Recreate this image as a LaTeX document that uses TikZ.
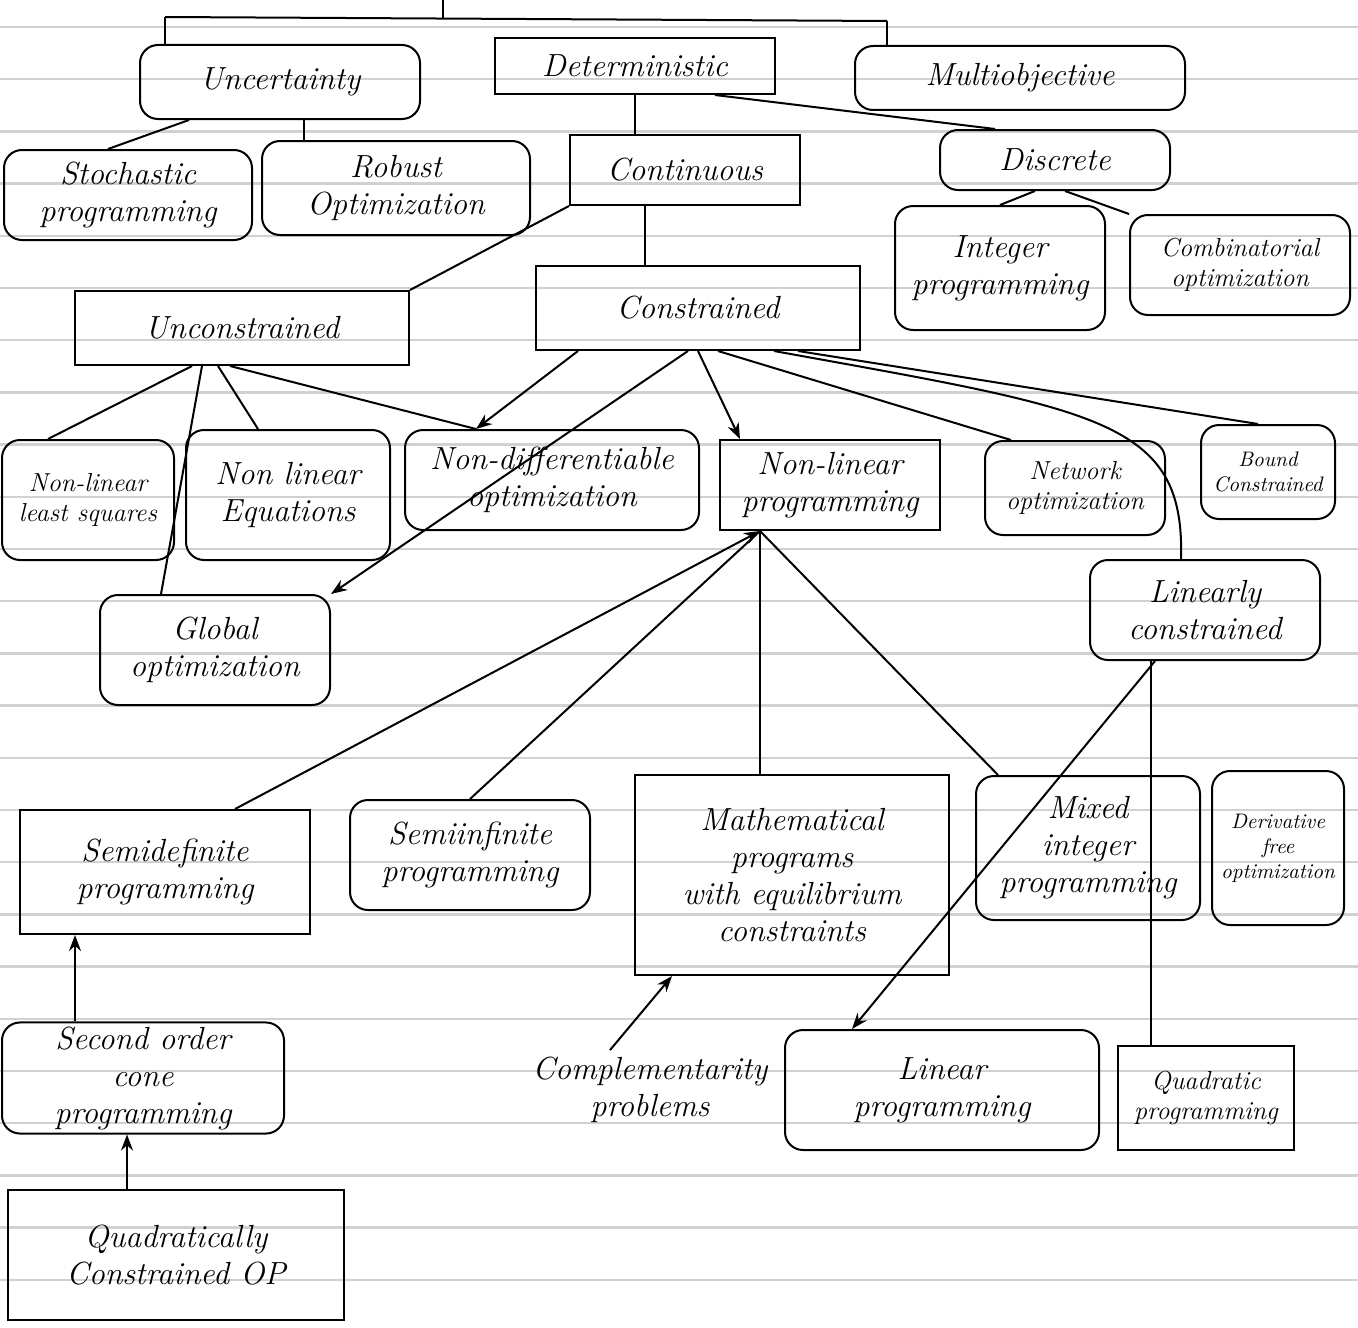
\documentclass[tikz,border=0pt]{standalone}
\usetikzlibrary{arrows.meta}
\begin{document}
\begin{tikzpicture}[x=0.5pt,y=-0.5pt,
  box/.style={draw, line width=1pt, rounded corners=9pt, align=center, inner sep=2pt,
    font=\fontsize{16}{18.5}\selectfont\itshape},
  sbox/.style={box, rounded corners=0pt},
  smallf/.style={font=\fontsize{13}{15}\selectfont\itshape},
  tinyf/.style={font=\fontsize{10.5}{12.5}\selectfont\itshape},
  link/.style={line width=1pt},
  arr/.style={link, -{Stealth[length=8pt,width=6pt]}},
  rule/.style={draw=black!18, line width=1.2pt}]
\useasboundingbox (0,0) rectangle (1358,1327);
\fill[white] (0,0) rectangle (1358,1327);
% ruled paper
\foreach \k in {0,...,24} {\draw[rule] (0,{27+52.2*\k}) -- (1358,{27+52.2*\k});}

% nodes
\node[box, minimum width=140pt, minimum height=37pt] (unc) at (280,82) {Uncertainty};
\node[sbox, minimum width=140pt, minimum height=28pt] (det) at (635,66) {Deterministic};
\node[box, minimum width=165pt, minimum height=32pt] (mult) at (1020,78) {Multiobjective};
\node[box, minimum width=124pt, minimum height=45pt] (stoch) at (128,195) {Stochastic\\programming};
\node[box, minimum width=134pt, minimum height=47pt] (rob) at (396,188) {Robust\\Optimization};
\node[sbox, minimum width=115pt, minimum height=35pt] (cont) at (685,170) {Continuous};
\node[box, minimum width=115pt, minimum height=30pt] (disc) at (1055,160) {Discrete};
\node[box, minimum width=105pt, minimum height=62pt] (intp) at (1000,268) {Integer\\programming};
\node[box, smallf, minimum width=110pt, minimum height=50pt] (comb) at (1240,265) {Combinatorial\\optimization};
\node[sbox, minimum width=162pt, minimum height=42pt] (cons) at (698,308) {Constrained};
\node[sbox, minimum width=167pt, minimum height=37pt] (uncons) at (242,328) {Unconstrained};
\node[box, smallf, minimum width=86pt, minimum height=60pt] (nlls) at (88,500) {Non-linear\\least squares};
\node[box, minimum width=102pt, minimum height=65pt] (nleq) at (288,495) {Non linear\\Equations};
\node[box, minimum width=147pt, minimum height=50pt] (nondiff) at (552,480) {Non-differentiable\\optimization};
\node[sbox, minimum width=110pt, minimum height=45pt] (nlp) at (830,485) {Non-linear\\programming};
\node[box, smallf, minimum width=90pt, minimum height=47pt] (netw) at (1075,488) {Network\\optimization};
\node[box, tinyf, minimum width=67pt, minimum height=47pt] (bound) at (1268,472) {Bound\\Constrained};
\node[box, minimum width=115pt, minimum height=50pt] (lincons) at (1205,610) {Linearly\\constrained};
\node[box, minimum width=115pt, minimum height=55pt] (glob) at (215,650) {Global\\optimization};
\node[sbox, minimum width=145pt, minimum height=62pt] (sdp) at (165,872) {Semidefinite\\programming};
\node[box, minimum width=120pt, minimum height=55pt] (sip) at (470,855) {Semiinfinite\\programming};
\node[sbox, minimum width=157pt, minimum height=100pt] (mpec) at (792,875) {Mathematical\\programs\\with equilibrium\\constraints};
\node[box, minimum width=112pt, minimum height=72pt] (mip) at (1088,848) {Mixed\\integer\\programming};
\node[box, tinyf, minimum width=66pt, minimum height=77pt] (dfo) at (1278,848) {Derivative\\free\\optimization};
\node[box, minimum width=141pt, minimum height=52pt] (socp) at (143,1078) {Second order\\cone\\programming};
\node[sbox, minimum width=168pt, minimum height=65pt] (qcop) at (176,1255) {Quadratically\\Constrained OP};
\node[align=center, font=\fontsize{16}{18.5}\selectfont\itshape] (comp) at (650,1090) {Complementarity\\problems};
\node[box, minimum width=157pt, minimum height=60pt] (lp) at (942,1090) {Linear\\programming};
\node[sbox, smallf, minimum width=88pt, minimum height=52pt] (qp) at (1206,1098) {Quadratic\\programming};

% top bar
\coordinate (root) at (443,0);
\coordinate (barL) at (165,17);
\coordinate (barM) at (443,19);
\coordinate (barR) at (887,21);
\draw[link] (barL) -- (barR);
\draw[link] (root) -- (barM);
\draw[link] (barL) -- (barL |- unc.north);
\draw[link] (barR) -- (barR |- mult.north);

% Uncertainty
\coordinate (u1) at ([xshift=12pt]unc.south);
\draw[link] ([xshift=25pt]unc.south west) -- ([xshift=-10pt]stoch.north);
\draw[link] (u1) -- (u1 |- rob.north);

% Deterministic
\draw[link] (det.south) -- (det.south |- cont.north);
\draw[link] ([xshift=40pt]det.south) -- ([xshift=-30pt]disc.north);

% Continuous
\coordinate (c1) at ([xshift=-20pt]cont.south);
\draw[link] (c1) -- (c1 |- cons.north);
\draw[link] (cont.south west) -- (uncons.north east);

% Discrete
\draw[link] ([xshift=-10pt]disc.south) -- (intp.north);
\draw[link] ([xshift=5pt]disc.south) -- (comb.north west);

% Unconstrained
\coordinate (nd) at ([xshift=-38pt]nondiff.north);
\draw[link] ([xshift=-25pt]uncons.south) -- ([xshift=-20pt]nlls.north);
\draw[link] ([xshift=-20pt]uncons.south) -- ([xshift=-27pt]glob.north);
\draw[link] ([xshift=-12pt]uncons.south) -- ([xshift=-15pt]nleq.north);
\draw[link] ([xshift=-6pt]uncons.south) -- (nd);

% Constrained
\draw[arr] ([xshift=-60pt]cons.south) -- (nd);
\draw[arr] ([xshift=-5pt]cons.south) -- (glob.north east);
\draw[arr] (cons.south) -- ([xshift=-45pt]nlp.north);
\draw[link] ([xshift=10pt]cons.south) -- ([xshift=-32pt]netw.north);
\draw[link] ([xshift=38pt]cons.south) .. controls (1100,410) and (1185,420) .. ([xshift=-12pt]lincons.north);
\draw[link] ([xshift=50pt]cons.south) -- ([xshift=-5pt]bound.north);

% Non-linear programming
\coordinate (nlpb) at ([xshift=-35pt]nlp.south);
\draw[arr] ([xshift=35pt]sdp.north) -- (nlpb);
\draw[link] (nlpb) -- (sip.north);
\draw[link] (nlpb) -- (nlpb |- mpec.north);
\draw[link] (nlpb) -- ([xshift=-45pt]mip.north);

% Linearly constrained
\coordinate (l2) at ([xshift=-27pt]lincons.south);
\draw[arr] ([xshift=-25pt]lincons.south) -- ([xshift=-45pt]lp.north);
\draw[link] (l2) -- (l2 |- qp.north);

% lower left
\coordinate (s1) at ([xshift=-45pt]sdp.south);
\draw[arr] (s1 |- socp.north) -- (s1);
\coordinate (q1) at ([xshift=-8pt]socp.south);
\draw[arr] (q1 |- qcop.north) -- (q1);

% Complementarity
\draw[arr] ([xshift=-20pt]comp.north) -- ([xshift=-60pt]mpec.south);
\end{tikzpicture}
\end{document}
